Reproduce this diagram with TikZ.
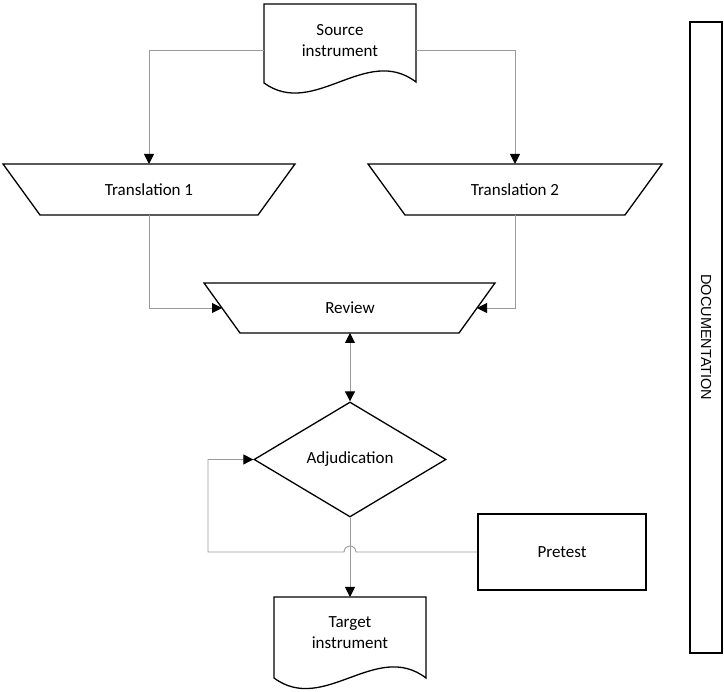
\documentclass[tikz,border=0pt]{standalone}
\usepackage{fontspec}
\setmainfont{Carlito}
\newfontfamily\docfont{Liberation Sans}
\usetikzlibrary{arrows.meta,shapes.geometric}
\definecolor{connGray}{RGB}{155,155,155}
\begin{document}
\begin{tikzpicture}[x=1pt,y=1pt,
  shapeline/.style={draw=black,line width=1.3pt,line join=miter},
  conn/.style={draw=connGray,line width=0.9pt},
  tip/.style={-{Triangle[color=black,length=10pt,width=10pt]}},
  bothtips/.style={{Triangle[color=black,length=10pt,width=10pt]}-{Triangle[color=black,length=10pt,width=10pt]}},
  lbl/.style={font=\fontsize{17}{21}\selectfont,align=center,inner sep=0pt}]
\useasboundingbox (0,0) rectangle (724,692);

% Source instrument (document shape)
\draw[shapeline] (264,609) -- (264,688) -- (416,688) -- (416,610)
  .. controls (366,648) and (314,573) .. (264,609) -- cycle;
\node[lbl] (src) at (340,651.5) {Source\\instrument};
\coordinate (srcL) at (264,642);
\coordinate (srcR) at (416,642);

% Translation 1
\draw[shapeline] (3,528) -- (295,528) -- (258,477) -- (40,477) -- cycle;
\node[lbl] (tr1) at (149,502) {Translation 1};
\coordinate (tr1top) at (149,528);
\coordinate (tr1bot) at (149,477);

% Translation 2
\draw[shapeline] (368,528) -- (662,528) -- (625,477) -- (405,477) -- cycle;
\node[lbl] (tr2) at (515,502) {Translation 2};
\coordinate (tr2top) at (515,528);
\coordinate (tr2bot) at (515,477);

% Review
\draw[shapeline] (204,409) -- (495,409) -- (459,359) -- (240,359) -- cycle;
\node[lbl] (rev) at (350,384) {Review};
\coordinate (revL) at (222,384);
\coordinate (revR) at (477,384);
\coordinate (revB) at (350,359);

% Adjudication
\node[diamond,shapeline,minimum width=192pt,minimum height=115pt,inner sep=0pt,
  font=\fontsize{17}{21}\selectfont] (adj) at (350,232.5) {Adjudication};

% Pretest
\node[rectangle,shapeline,minimum width=168pt,minimum height=76pt,inner sep=0pt,
  font=\fontsize{17}{21}\selectfont] (pre) at (562,140) {Pretest};

% Target instrument (document shape)
\draw[shapeline] (274,14) -- (274,95) -- (426,95) -- (426,14)
  .. controls (376,52) and (324,-23) .. (274,14) -- cycle;
\node[lbl] (tgt) at (350,59) {Target\\instrument};
\coordinate (tgttop) at (350,95);

% Documentation
\node[rectangle,shapeline,rotate=-90,minimum width=631pt,minimum height=32pt,inner sep=0pt,
  font=\docfont\fontsize{14.5}{17}\selectfont] (doc) at (706,354.5) {DOCUMENTATION};

% Connectors
\draw[conn,tip] (srcL) -| (tr1top);
\draw[conn,tip] (srcR) -| (tr2top);
\draw[conn,tip] (tr1bot) |- (revL);
\draw[conn,tip] (tr2bot) |- (revR);
\draw[conn,bothtips] (revB) -- (adj.north);
\draw[conn,tip] (adj.south) -- (tgttop);
\draw[conn,tip] (pre.west) -- (356,140) arc[start angle=0,end angle=180,radius=6pt]
  -- (208,140) |- (adj.west);
\end{tikzpicture}
\end{document}
